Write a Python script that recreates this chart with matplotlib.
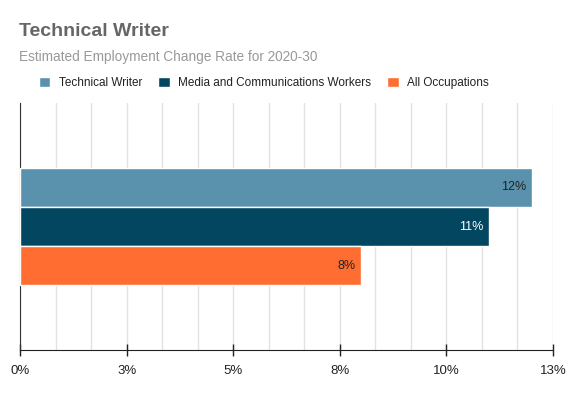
import matplotlib.pyplot as plt
import numpy as np

plt.rcParams['font.family'] = ['Liberation Sans', 'DejaVu Sans']

series = ['Technical Writer', 'Media and Communications Workers', 'All Occupations']
values = [12, 11, 8]
colors = ['#5A92AE', '#034660', '#FF6D31']
label_colors = ['#222222', '#FFFFFF', '#222222']
tick_vals = [0, 2.5, 5, 7.5, 10, 12.5]
tick_labels = ['0%', '3%', '5%', '8%', '10%', '13%']

fig = plt.figure(figsize=(5.73, 3.96), dpi=100)
ax = fig.add_axes([20/573, 46/396, 533/573, 247/396])

h = 0.158
pos = [h, 0, -h]
for p, v, c, lc, name in zip(pos, values, colors, label_colors, series):
    ax.barh(p, v, height=h, color=c, edgecolor='white', linewidth=1, label=name, zorder=3)
    ax.text(v - 0.12, p, f'{v}%', ha='right', va='center', color=lc, fontsize=9, zorder=4)

ax.set_xlim(0, 12.5)
ax.set_ylim(-0.5, 0.5)
ax.set_yticks([])
ax.set_xticks(tick_vals)
ax.set_xticklabels(tick_labels, fontsize=9.5, color='#222222')
ax.set_xticks(np.arange(0, 12.6, 2.5/3), minor=True)
ax.tick_params(axis='x', which='major', direction='inout', length=8, width=1, color='#222222', pad=7)
ax.tick_params(axis='x', which='minor', length=0)
ax.grid(axis='x', which='both', color='#E2E2E2', linewidth=1, zorder=0)
for s in ['top', 'right']:
    ax.spines[s].set_visible(False)
ax.spines['left'].set_color('#333333')
ax.spines['bottom'].set_color('#222222')

fig.text(19/573, 1 - 31/396, 'Technical Writer', fontsize=14, fontweight='bold', color='#666666', va='center')
fig.text(19/573, 1 - 57/396, 'Estimated Employment Change Rate for 2020-30', fontsize=9.8, color='#999999', va='center')

fig.legend(loc='center left', bbox_to_anchor=(39/573, 1 - 83/396), ncol=3, frameon=False, fontsize=8.5,
           borderpad=0, borderaxespad=0,
           handlelength=0.95, handleheight=0.95, handletextpad=0.75, columnspacing=1.35, labelcolor='#222222')

fig.savefig('out.png', dpi=100)
